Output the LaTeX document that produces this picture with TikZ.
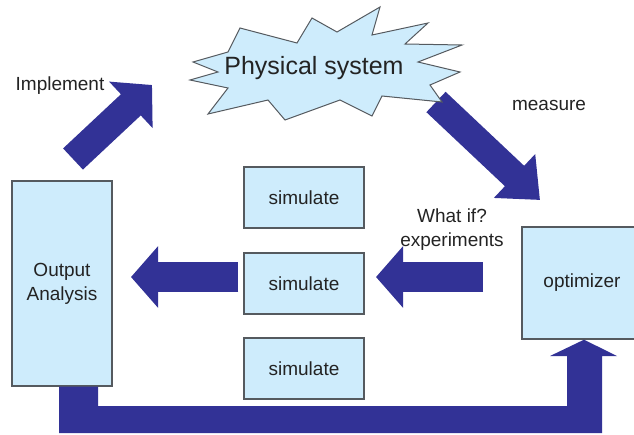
\documentclass[tikz,border=0pt]{standalone}
\usepackage{fontspec}
\setmainfont{Liberation Sans}
\usetikzlibrary{arrows.meta,calc}
\definecolor{boxfill}{RGB}{206,236,252}
\definecolor{boxline}{RGB}{85,90,95}
\definecolor{flow}{RGB}{50,50,150}
\definecolor{ink}{RGB}{35,35,35}
\tikzset{
  blk/.style={draw=boxline, line width=1.4pt, fill=boxfill, inner sep=0pt,
    text=ink, font=\fontsize{19}{24}\selectfont, align=center},
  lbl/.style={text=ink, font=\fontsize{19}{24}\selectfont, align=center, inner sep=0pt},
  fat/.style={draw=flow, line width=#1},
  tipA/.style={-{Triangle[width=60pt,length=27pt]}},
}
\begin{document}
\begin{tikzpicture}[x=1pt, y=-1pt]
\useasboundingbox (0,0) rectangle (634,434);

% boxes
\node[blk, minimum width=100pt, minimum height=205pt] (oa) at (62,283.5) {Output\\Analysis};
\node[blk, minimum width=120pt, minimum height=61pt] (s1) at (304,197.5) {simulate};
\node[blk, minimum width=120pt, minimum height=61pt] (s2) at (304,283.5) {simulate};
\node[blk, minimum width=120pt, minimum height=61pt] (s3) at (304,368.5) {simulate};
\node[blk, minimum width=128pt, minimum height=112pt] (opt) at (586,283) {\hspace*{-8pt}optimizer};

% block arrows between the stages
\coordinate (lt) at (s2.west |- 0,277);
\coordinate (lh) at (131,277);
\draw[fat=30pt, tipA] (lt) ++(-5,0) -- (lh);
\coordinate (rt) at (483,277);
\coordinate (rh) at (376,277);
\draw[fat=30pt, tipA] (rt) -- (rh);

\coordinate (it) at (73,159);
\coordinate (ih) at (152,85);
\draw[fat=29pt, -{Triangle[width=62pt,length=29pt]}] (it) -- (ih);
\coordinate (mt) at (436,102);
\coordinate (mh) at (540,200);
\draw[fat=28pt, -{Triangle[width=58pt,length=35pt]}] (mt) -- (mh);

% feedback arrow from the analysis back to the optimizer
\fill[flow] (59,0 |- oa.south) -- (98,0 |- oa.south) -- (98,406) -- (567,406)
  -- (567,356) -- (550,356) -- (584,0 |- opt.south) -- (617,356) -- (602,356)
  -- (602,433) -- (59,433) -- cycle;

% the physical system
\filldraw[fill=boxfill, draw=boxline, line width=1pt, line join=miter]
  (193,62) -- (228,52) -- (240,28) -- (297,43) -- (312,18) -- (337,32)
  -- (380,7) -- (372,35) -- (428,23) -- (405,44) -- (462,45) -- (418,62)
  -- (460,72) -- (430,85) -- (442,102) -- (382,96) -- (372,116) -- (340,100)
  -- (285,120) -- (268,100) -- (208,114) -- (228,88) -- (190,80) -- (218,72) -- cycle;
\node[lbl, font=\fontsize{25}{30}\selectfont] (ps) at (314,68) {Physical system};

% labels
\node[lbl] (imp) at (60,86) {Implement};
\node[lbl] (mea) at (549,105) {measure};
\node[lbl] (wi) at (452,230) {What if?\\experiments};
\end{tikzpicture}
\end{document}
